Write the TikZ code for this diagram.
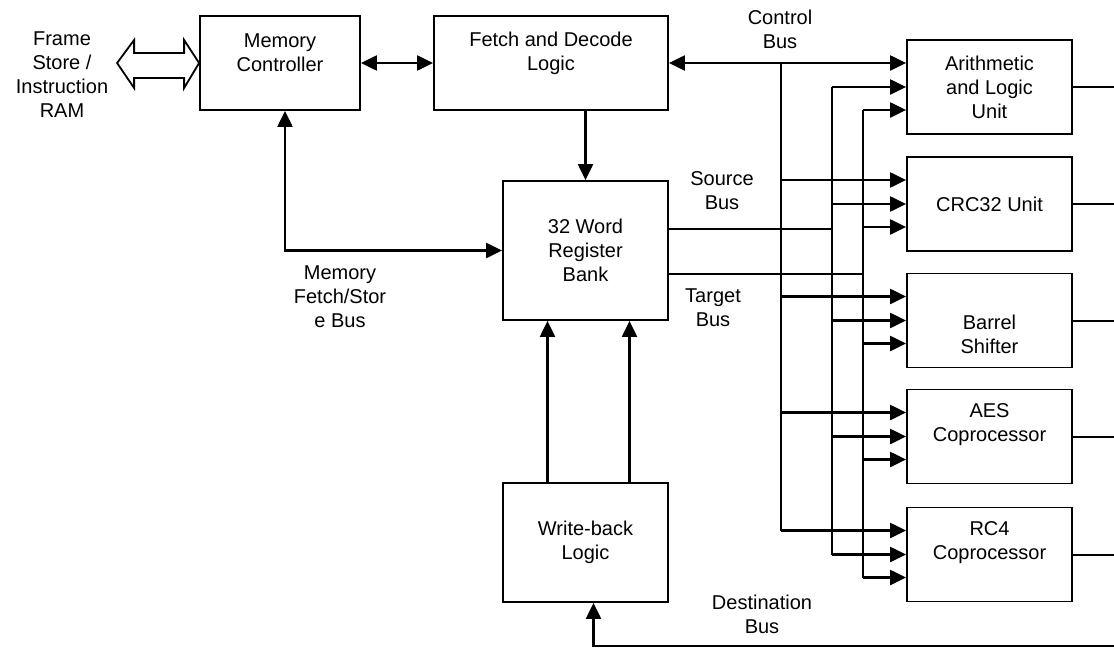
\documentclass[tikz,border=0pt]{standalone}
\usepackage{fontspec}
\setmainfont{Liberation Sans}
\usetikzlibrary{arrows.meta}
\tikzset{
  blk/.style={draw,line width=1.8pt,minimum width=165pt,minimum height=94pt,align=center,font=\fontsize{20}{24}\selectfont},
  txt/.style={align=center,font=\fontsize{20}{24}\selectfont},
  bus/.style={line width=2pt},
  arr/.style={line width=2.2pt,-{Triangle[length=16pt,width=15pt]}},
  arrb/.style={line width=2.2pt,{Triangle[length=16pt,width=15pt]}-{Triangle[length=16pt,width=15pt]}},
}
\begin{document}
\begin{tikzpicture}[x=1pt,y=-1pt]
\useasboundingbox (0,0) rectangle (1114,648);
% blocks
\node[blk,minimum width=160pt] (mc) at (280,63) {};
\node[blk,minimum width=234pt] (fd) at (551,63) {};
\node[blk,minimum height=139pt] (rb) at (585.5,250.5) {32 Word\\Register\\Bank};
\node[blk,minimum height=119pt] (wb) at (585.5,542.5) {Write-back\\Logic};
\node[blk] (alu) at (989.5,87) {Arithmetic\\and Logic\\Unit};
\node[blk] (crc) at (989.5,204) {CRC32 Unit};
\node[blk] (bsh) at (989.5,320.5) {};
\node[blk] (aes) at (989.5,436.5) {};
\node[blk] (rc4) at (989.5,554.5) {};
% texts
\node[txt] (fstxt) at (62,75) {Frame\\Store /\\Instruction\\RAM};
\node[txt] (mctxt) at (280,53) {Memory\\Controller};
\node[txt] (fdtxt) at (551,53) {Fetch and Decode\\Logic};
\node[txt] (bshtxt) at (989.5,334) {Barrel\\Shifter};
\node[txt] (aestxt) at (989.5,425) {AES\\Coprocessor};
\node[txt] (rc4txt) at (989.5,543) {RC4\\Coprocessor};
\node[txt] (cblbl) at (780,29) {Control\\Bus};
\node[txt] (sblbl) at (722,191) {Source\\Bus};
\node[txt] (tblbl) at (713,308) {Target\\Bus};
\node[txt] (mblbl) at (340,297) {Memory\\Fetch/Stor\\e Bus};
\node[txt] (dblbl) at (762,614) {Destination\\Bus};
% frame store link
\draw[line width=1.8pt] (mc.west) -- ++(-15,-23) -- ++(0,13) -- ++(-50,0) -- ++(0,-13)
  -- ++(-17,23) -- ++(17,25) -- ++(0,-10) -- ++(50,0) -- ++(0,10) -- cycle;
% memory and register links
\draw[arrb] (mc.east) -- (fd.west);
\draw[arr] (rb.north |- fd.south) -- (rb.north);
\draw[arrb] ([xshift=5pt]mc.south) |- (rb.west);
\draw[arr] ([xshift=-38pt]wb.north) -- ([xshift=-38pt]rb.south);
\draw[arr] ([xshift=44pt]wb.north) -- ([xshift=44pt]rb.south);
% buses
\coordinate (cb) at (781,0);
\coordinate (sb) at (832,0);
\coordinate (tb) at (863,0);
\coordinate (dst) at (1114,646);
\draw[arrb] (fd.east) -- (fd.east -| alu.west);
\draw[bus] (fd.east -| cb) -- ([yshift=24pt]rc4.west -| cb);
\draw[bus] ([yshift=22pt]rb.east) -- ([yshift=22pt]rb.east -| sb);
\draw[bus] (alu.west -| sb) -- (rc4.west -| sb);
\draw[bus] ([yshift=-23pt]rb.east) -- ([yshift=-23pt]rb.east -| tb);
\draw[bus] ([yshift=-23pt]alu.west -| tb) -- ([yshift=-23pt]rc4.west -| tb);
\foreach \u in {crc,bsh,aes,rc4}
  \draw[arr] ([yshift=24pt]\u.west -| cb) -- ([yshift=24pt]\u.west);
\foreach \u in {alu,crc,bsh,aes,rc4} {
  \draw[arr] (\u.west -| sb) -- (\u.west);
  \draw[arr] ([yshift=-23pt]\u.west -| tb) -- ([yshift=-23pt]\u.west);
  \draw[bus] (\u.east) -- (\u.east -| dst);
}
\draw[arr] (dst) -| ([xshift=8pt]wb.south);
\end{tikzpicture}
\end{document}
